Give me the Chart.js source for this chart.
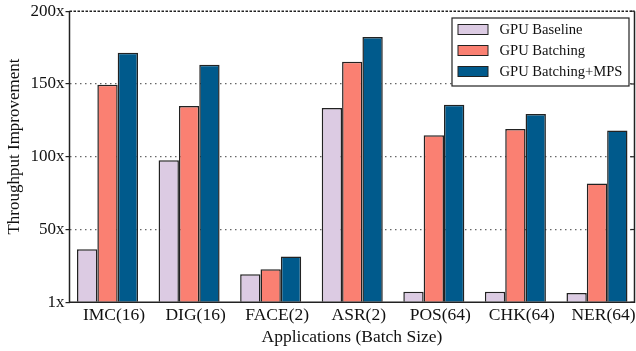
<!DOCTYPE html>
<html>
<head>
<meta charset="utf-8">
<script src="https://cdn.jsdelivr.net/npm/chart.js@4.4.1/dist/chart.umd.min.js"></script>
<style>
  html, body { margin: 0; padding: 0; background: #fff; }
  #wrap { width: 636px; height: 351px; }
</style>
</head>
<body>
<div id="wrap"><canvas id="c" width="636" height="351"></canvas></div>
<script>
const categories = ['IMC(16)', 'DIG(16)', 'FACE(2)', 'ASR(2)', 'POS(64)', 'CHK(64)', 'NER(64)'];
const seriesNames = ['GPU Baseline', 'GPU Batching', 'GPU Batching+MPS'];
const gpuBaseline = [36.4, 97.6, 19.3, 133.5, 7.3, 7.3, 6.4];
const gpuBatching = [149.5, 134.8, 22.7, 165.3, 114.7, 119.1, 81.6];
const gpuBatchingMps = [171.5, 163.2, 31.5, 182.2, 135.8, 129.4, 118];
const yTickValues = [0, 50, 100, 150, 200];
const yTickLabels = ['1x', '50x', '100x', '150x', '200x'];
const xTitle = 'Applications (Batch Size)';
const yTitle = 'Throughput Improvement';
const colors = ['#dccbe3', '#fa8072', '#005a8c'];

const FONT = '"Liberation Serif", "Times New Roman", serif';

const framePlugin = {
  id: 'frame',
  afterDatasetsDraw(chart) {
    const { ctx, chartArea: a } = chart;
    ctx.save();
    ctx.strokeStyle = '#222';
    ctx.lineWidth = 1.5;
    ctx.setLineDash([]);
    ctx.beginPath();
    ctx.moveTo(a.left, a.top);
    ctx.lineTo(a.left, a.bottom);
    ctx.lineTo(a.right, a.bottom);
    ctx.lineTo(a.right, a.top);
    ctx.stroke();
    ctx.setLineDash([2.5, 1.5]);
    ctx.beginPath();
    ctx.moveTo(a.left, a.top);
    ctx.lineTo(a.right, a.top);
    ctx.stroke();
    ctx.setLineDash([]);
    ctx.lineWidth = 1.2;
    const ys = chart.scales.y;
    yTickValues.forEach(v => {
      const y = ys.getPixelForValue(v);
      ctx.beginPath();
      ctx.moveTo(a.right - 4, y);
      ctx.lineTo(a.right, y);
      ctx.stroke();
    });
    ctx.restore();
  },
  afterDraw(chart) {
    const { ctx } = chart;
    // y-axis title
    ctx.save();
    ctx.translate(14.5, 146.5);
    ctx.rotate(-Math.PI / 2);
    ctx.font = '17px ' + FONT;
    ctx.fillStyle = '#111';
    ctx.textAlign = 'center';
    ctx.textBaseline = 'middle';
    ctx.fillText(yTitle, 0, 0);
    ctx.restore();
    // legend
    const x0 = 452, y0 = 18, w = 177, h = 68;
    ctx.save();
    ctx.fillStyle = '#fff';
    ctx.fillRect(x0, y0, w, h);
    ctx.strokeStyle = '#222';
    ctx.lineWidth = 1.2;
    ctx.strokeRect(x0, y0, w, h);
    ctx.font = '14.6px ' + FONT;
    ctx.textBaseline = 'middle';
    chart.data.datasets.forEach((ds, i) => {
      const cy = 29.5 + i * 21;
      ctx.fillStyle = ds.backgroundColor;
      ctx.fillRect(458, cy - 5, 30, 10);
      ctx.strokeStyle = '#222';
      ctx.lineWidth = 1;
      ctx.strokeRect(458, cy - 5, 30, 10);
      ctx.fillStyle = '#111';
      ctx.fillText(ds.label, 499.5, cy + 1);
    });
    ctx.restore();
  }
};

new Chart(document.getElementById('c'), {
  type: 'bar',
  data: {
    datasets: [gpuBaseline, gpuBatching, gpuBatchingMps].map((d, i) => ({
      label: seriesNames[i],
      data: d.map((v, j) => ({ x: j, y: v })),
      backgroundColor: colors[i],
      borderColor: '#222',
      borderWidth: 1.5,
      borderSkipped: 'bottom',
      categoryPercentage: 0.748,
      barPercentage: 1.0
    }))
  },
  options: {
    responsive: false,
    animation: false,
    devicePixelRatio: 1,
    layout: { padding: { top: 10.7, right: 1.5, left: 0, bottom: 0 } },
    plugins: { legend: { display: false }, tooltip: { enabled: false } },
    scales: {
      x: {
        type: 'linear',
        offset: false,
        min: -0.466,
        max: 6.46,
        afterBuildTicks(s) { s.ticks = categories.map((c, i) => ({ value: i })); },
        grid: { display: false, drawTicks: false },
        border: { display: false },
        ticks: {
          color: '#111', font: { family: FONT, size: 17.5 }, padding: 3,
          labelOffset: 6.5, maxRotation: 0, autoSkip: false,
          callback: (v) => categories[v]
        },
        title: { display: true, text: xTitle, color: '#111', font: { family: FONT, size: 17.5 }, padding: { top: 0, bottom: 3 } },
        afterFit(s) { s.height = 48.7; }
      },
      y: {
        min: 0, max: 200,
        afterBuildTicks(s) { s.ticks = yTickValues.map(v => ({ value: v })); },
        grid: {
          color: (c) => (c.tick && (c.tick.value === 0 || c.tick.value === 200)) ? 'rgba(0,0,0,0)' : '#666',
          lineWidth: 1.2,
          drawTicks: true,
          tickLength: 4,
          tickColor: '#222',
          tickWidth: 1.2,
          tickBorderDash: []
        },
        border: { display: false, dash: [1.5, 3.5] },
        ticks: {
          color: '#111', font: { family: FONT, size: 17 }, padding: 1,
          callback: (v) => yTickLabels[yTickValues.indexOf(v)]
        },
        title: { display: false },
        afterFit(s) { s.width = 69.5; }
      }
    }
  },
  plugins: [framePlugin]
});
</script>
</body>
</html>
